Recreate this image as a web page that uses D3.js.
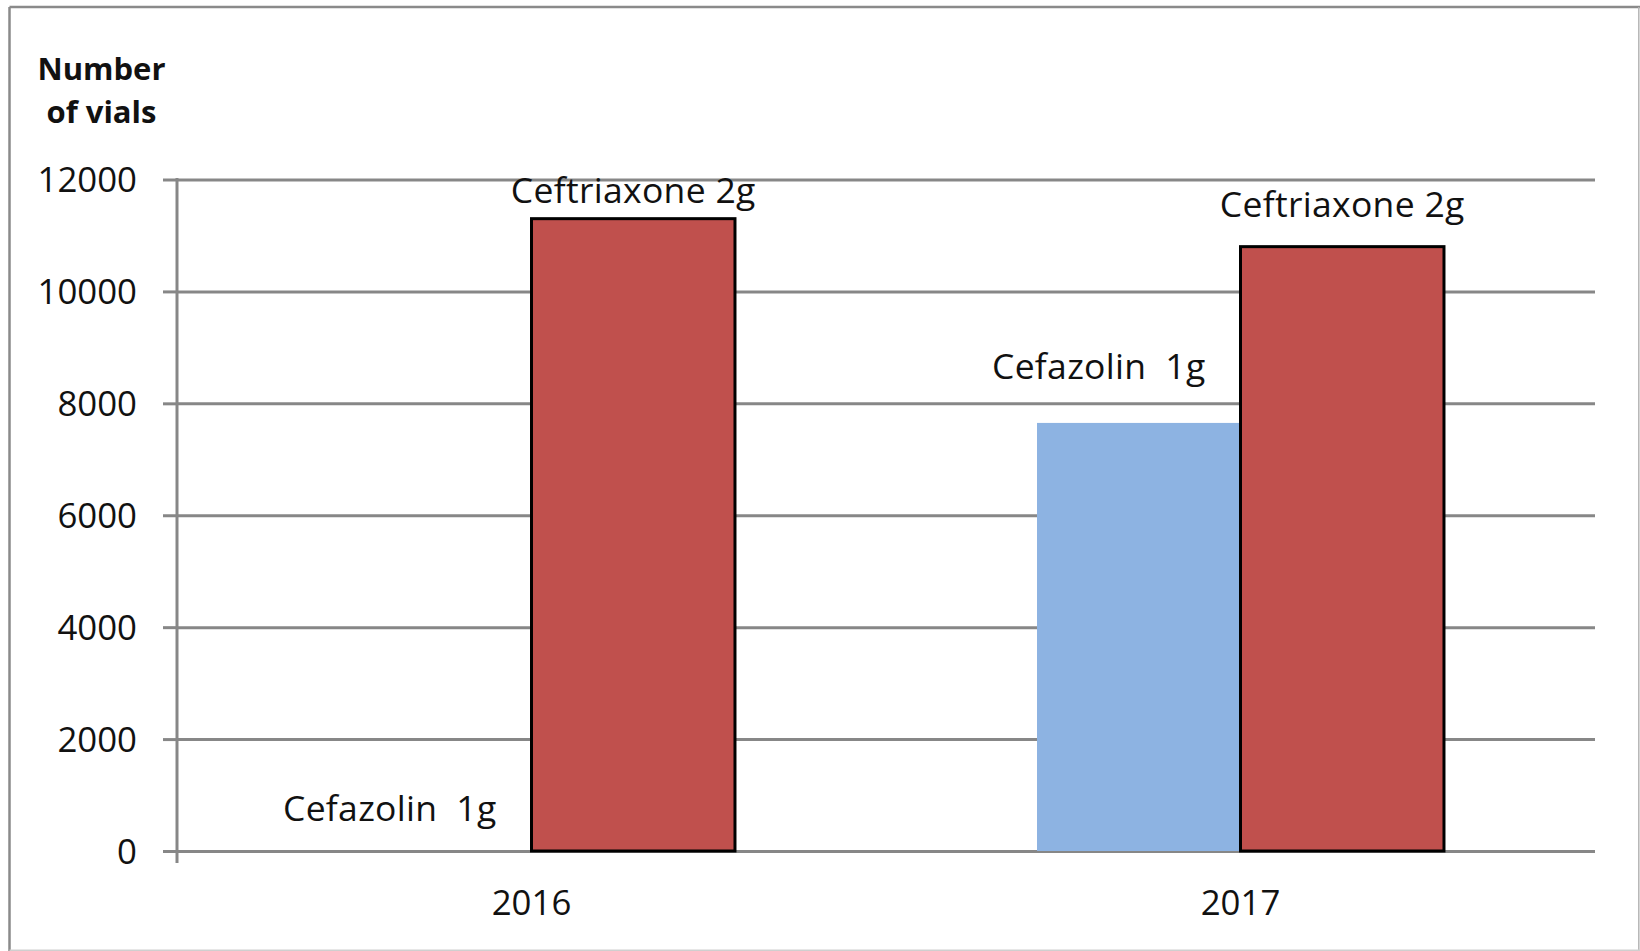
<!DOCTYPE html>
<html>
<head>
<meta charset="utf-8">
<script src="https://cdn.jsdelivr.net/npm/d3@7"></script>
<style>
  html, body { margin: 0; padding: 0; background: #fff; }
  svg { display: block; }
  text { font-family: "Open Sans", sans-serif; fill: #111; }
</style>
</head>
<body>
<svg id="chart" width="1640" height="951"></svg>
<script>
// ---- data ----
const years = ["2016", "2017"];
const seriesNames = ["Cefazolin  1g", "Ceftriaxone 2g"];
const cefazolin = [0, 7650];
const ceftriaxone = [11300, 10800];
const yTicks = [0, 2000, 4000, 6000, 8000, 10000, 12000];
const yTitle = ["Number", "of vials"];

// ---- layout ----
const W = 1640, H = 951;
const plot = { left: 177, right: 1595, top: 179.5, bottom: 851 };
const svg = d3.select("#chart");

const rows = [];
years.forEach((yr, i) => {
  rows.push({ year: yr, series: 0, name: seriesNames[0], value: cefazolin[i] });
  rows.push({ year: yr, series: 1, name: seriesNames[1], value: ceftriaxone[i] });
});

const x0 = d3.scaleBand().domain(years).range([plot.left, plot.right])
  .paddingInner(0.426).paddingOuter(0.213);
const x1 = d3.scaleBand().domain([0, 1]).range([0, x0.bandwidth()]).padding(0);
const y = d3.scaleLinear().domain([0, 12000]).range([plot.bottom, plot.top]);

const gridColor = "#878787";

// outer frame
svg.append("line").attr("x1", 9.5).attr("x2", W).attr("y1", 7).attr("y2", 7)
  .attr("stroke", "#8a8a8a").attr("stroke-width", 2.5);
svg.append("line").attr("x1", 9.5).attr("x2", 9.5).attr("y1", 7).attr("y2", H)
  .attr("stroke", "#8a8a8a").attr("stroke-width", 2.5);
svg.append("line").attr("x1", 1638.8).attr("x2", 1638.8).attr("y1", 7).attr("y2", H)
  .attr("stroke", "#b5b5b5").attr("stroke-width", 1.5);
svg.append("line").attr("x1", 9.5).attr("x2", W).attr("y1", 950.2).attr("y2", 950.2)
  .attr("stroke", "#cfcfcf").attr("stroke-width", 1.5);

// y axis with gridlines
const yAxis = d3.axisLeft(y).tickValues(yTicks).tickSize(14).tickPadding(0).tickFormat(d => d);
const gy = svg.append("g").attr("transform", `translate(${plot.left},0)`).call(yAxis);
gy.select(".domain").remove();
gy.selectAll(".tick line").attr("stroke", gridColor).attr("stroke-width", 3);
gy.selectAll(".tick text").remove();
gy.selectAll(".tick").append("line")
  .attr("x1", 0).attr("x2", plot.right - plot.left)
  .attr("stroke", gridColor).attr("stroke-width", 3);
gy.selectAll(".tick").append("text")
  .attr("x", 137 - plot.left).attr("y", 12.3)
  .attr("text-anchor", "end").style("font-size", "34.8px")
  .text(d => d);
// vertical axis line (extends to category tick below)
svg.append("line").attr("x1", plot.left).attr("x2", plot.left)
  .attr("y1", plot.top - 1.5).attr("y2", plot.bottom + 12)
  .attr("stroke", gridColor).attr("stroke-width", 3);

// y title
svg.append("text").attr("x", 101.5).attr("y", 80).attr("text-anchor", "middle")
  .style("font-size", "31px").style("font-weight", "bold").text(yTitle[0]);
svg.append("text").attr("x", 101.5).attr("y", 123).attr("text-anchor", "middle")
  .style("font-size", "31px").style("font-weight", "bold").text(yTitle[1]);

// bars
const colors = ["#8DB3E2", "#C0504D"];
const strokes = ["none", "#000"];
svg.append("g").selectAll("rect").data(rows).join("rect")
  .attr("x", d => x0(d.year) + x1(d.series))
  .attr("y", d => y(d.value))
  .attr("width", x1.bandwidth())
  .attr("height", d => y(0) - y(d.value))
  .attr("fill", d => colors[d.series])
  .attr("stroke", d => strokes[d.series])
  .attr("stroke-width", 3);

// x category labels
const xAxis = d3.axisBottom(x0).tickSize(0).tickPadding(0);
const gx = svg.append("g").attr("transform", `translate(0,${plot.bottom})`).call(xAxis);
gx.select(".domain").remove();
gx.selectAll(".tick text").attr("y", 64).attr("dy", null)
  .style("font-size", "34.8px").attr("fill", "#111");

// data labels (series name), placed above bar ends, kept inside plot
const labelShiftX = [-40, 0];
const labelShiftY = [[0, -14], [0, 0]];
svg.append("g").selectAll("text").data(rows).join("text")
  .attr("text-anchor", "middle")
  .style("font-size", "35.5px")
  .style("letter-spacing", "0.3px")
  .attr("x", d => x0(d.year) + x1(d.series) + x1.bandwidth() / 2 + labelShiftX[d.series])
  .attr("y", d => Math.max(y(d.value) - 30, plot.top + 23.5) + labelShiftY[d.series][years.indexOf(d.year)])
  .style("white-space", "pre")
  .text(d => d.name);
</script>
</body>
</html>
